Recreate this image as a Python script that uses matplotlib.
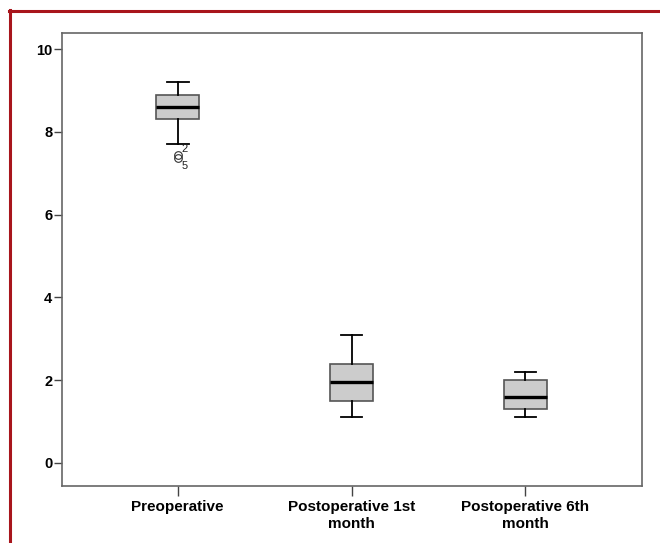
import matplotlib
matplotlib.use("Agg")
import matplotlib.pyplot as plt
from matplotlib.lines import Line2D

plt.rcParams['font.family'] = ['Liberation Sans', 'DejaVu Sans']

# data (box plot summary per group)
groups = ["Preoperative", "Postoperative 1st\nmonth", "Postoperative 6th\nmonth"]
whisker_low = [7.7, 1.1, 1.1]
q1 = [8.3, 1.5, 1.3]
median = [8.6, 1.95, 1.6]
q3 = [8.9, 2.4, 2.0]
whisker_high = [9.2, 3.1, 2.2]
outliers = [[7.45, 7.38], [], []]
outlier_ids = [["2", "5"], [], []]

stats = []
for i in range(len(groups)):
    stats.append({'whislo': whisker_low[i], 'q1': q1[i], 'med': median[i],
                  'q3': q3[i], 'whishi': whisker_high[i], 'fliers': outliers[i]})

fig = plt.figure(figsize=(6.6, 5.43), dpi=100)
ax = fig.add_axes([62/660, 1-486/543, 580/660, 453/543])

ax.bxp(stats, positions=range(len(groups)), widths=0.25, patch_artist=True,
       boxprops=dict(facecolor='#cccccc', edgecolor='#555555', linewidth=1.2),
       medianprops=dict(color='black', linewidth=2.4),
       whiskerprops=dict(color='black', linewidth=1.3),
       capprops=dict(color='black', linewidth=1.3),
       capwidths=0.125,
       flierprops=dict(marker='o', markersize=5.5, markerfacecolor='none',
                       markeredgecolor='#333333', markeredgewidth=0.8))

# case labels next to outliers
for i, ids in enumerate(outlier_ids):
    for k, lab in enumerate(ids):
        ax.annotate(lab, (i, outliers[i][k]), xytext=(3, 4 if k == 0 else -6),
                    textcoords='offset points', fontsize=8, color='#222222',
                    ha='left', va='center')

ax.set_xlim(-0.665, 2.67)
ax.set_ylim(-0.56, 10.39)
ax.set_yticks([0, 2, 4, 6, 8, 10])
ax.set_xticks(range(len(groups)))
ax.set_xticklabels(groups, fontweight='bold', fontsize=11, linespacing=1.25)
for lab in ax.get_yticklabels():
    lab.set_fontweight('bold')
    lab.set_fontsize(10.5)
ax.tick_params(axis='x', direction='out', length=7, width=1, color='#444444', pad=3)
ax.tick_params(axis='y', direction='out', length=6, width=1, color='#444444', pad=1)
for sp in ax.spines.values():
    sp.set_color('#666666')
    sp.set_linewidth(1.2)

# red frame lines at the top and left edge
fig.add_artist(Line2D([9/660, 1], [1-10.5/543, 1-10.5/543], color='#a8151c', linewidth=2.2,
                      transform=fig.transFigure))
fig.add_artist(Line2D([10.3/660, 10.3/660], [0, 1-9.5/543], color='#a8151c', linewidth=2.2,
                      transform=fig.transFigure))

fig.savefig("out.png", dpi=100)
